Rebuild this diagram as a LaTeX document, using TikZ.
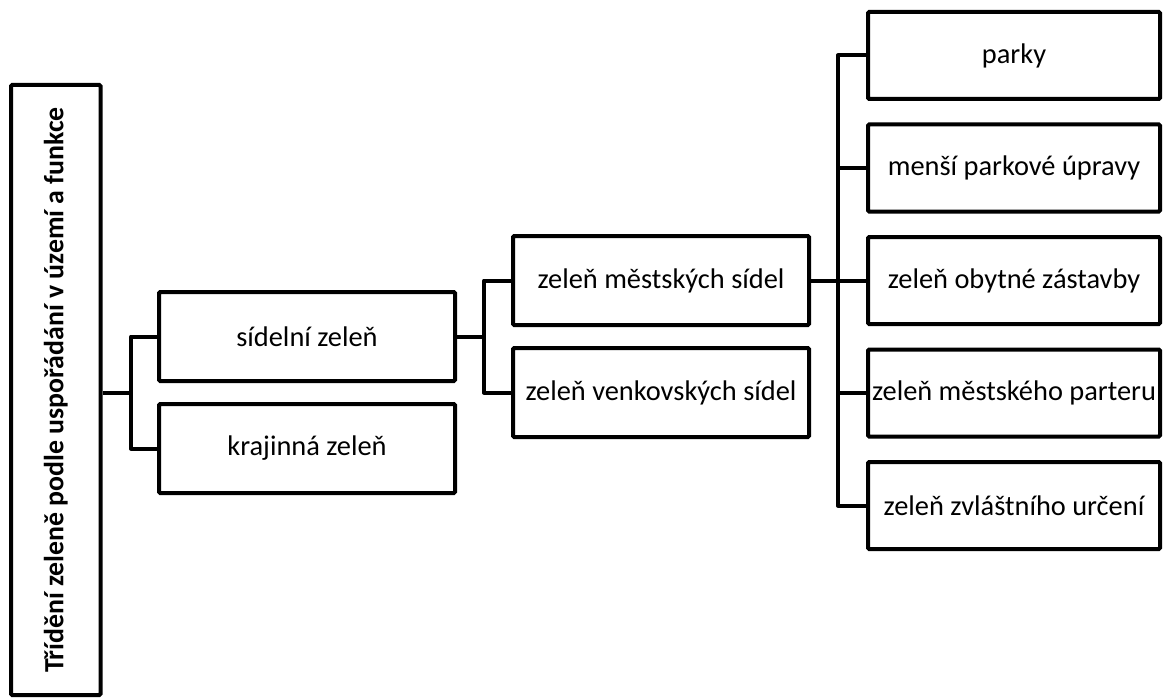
\documentclass[tikz,border=0pt]{standalone}
\usepackage{fontspec}
\setmainfont{Carlito}
\begin{document}
\begin{tikzpicture}[x=1pt,y=-1pt,
  box/.style={draw=black, line width=4pt, rounded corners=1.2pt, fill=white,
    inner sep=0pt, font=\fontsize{28.4}{32}\selectfont},
  lone/.style={box, minimum width=296pt, minimum height=89pt},
  ltwo/.style={box, minimum width=296pt, minimum height=89pt},
  lthree/.style={box, minimum width=292pt, minimum height=87pt},
  conn/.style={draw=black, line width=4pt, line join=round}]
\useasboundingbox (0,0) rectangle (1165,698);
% root
\node[box, minimum width=89.5pt, minimum height=610pt, font=\fontsize{27.8}{32}\selectfont] (root) at (55.75,390)
  {\rotatebox{90}{\bfseries Třídění zeleně podle uspořádání v území a funkce}};
% level 1
\node[lone] (s1) at (307,336.5) {sídelní zeleň};
\node[lone] (s2) at (307,448.5) {krajinná zeleň};
% level 2
\node[ltwo] (m1) at (661,280.5) {zeleň městských sídel};
\node[ltwo] (m2) at (661,392.5) {zeleň venkovských sídel};
% level 3
\node[lthree] (p1) at (1014,55.5) {parky};
\node[lthree] (p2) at (1014,168) {menší parkové úpravy};
\node[lthree] (p3) at (1014,280.5) {zeleň obytné zástavby};
\node[lthree] (p4) at (1014,393) {zeleň městského parteru};
\node[lthree] (p5) at (1014,505.5) {zeleň zvláštního určení};
% connectors
\coordinate (j1) at (131,392.5);
\draw[conn] (root.east |- j1) -- (j1);
\draw[conn] (s1.west) -- (s1.west -| j1) |- (s2.west);
\coordinate (j2) at (484,336.5);
\draw[conn] (s1.east) -- (j2);
\draw[conn] (m1.west) -- (m1.west -| j2) |- (m2.west);
\coordinate (j3) at (838,280.5);
\draw[conn] (m1.east) -- (j3);
\draw[conn] (p1.west) -- (p1.west -| j3) |- (p5.west);
\draw[conn] (p2.west) -- (p2.west -| j3);
\draw[conn] (p3.west) -- (p3.west -| j3);
\draw[conn] (p4.west) -- (p4.west -| j3);
\end{tikzpicture}
\end{document}
